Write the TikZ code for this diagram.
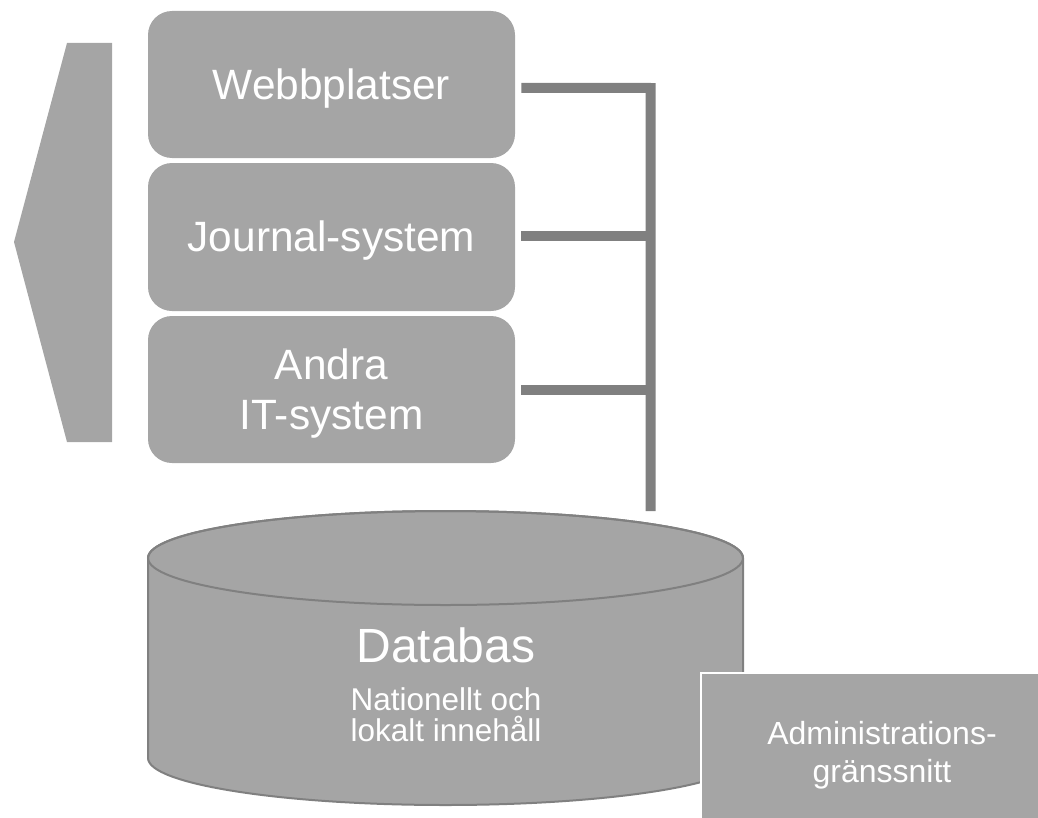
\documentclass[tikz,border=0pt]{standalone}
\usepackage{fontspec}
\setmainfont{Liberation Sans}
\definecolor{boxgray}{HTML}{A5A5A5}
\definecolor{linegray}{HTML}{808080}
\begin{document}
\begin{tikzpicture}[x=0.75pt,y=0.75pt,
  sysbox/.style={fill=boxgray, rounded corners=18pt, minimum width=275.25pt, minimum height=110.25pt, inner sep=0pt},
  systext/.style={text=white, align=center, inner sep=0pt, yshift=-3pt, font=\fontsize{31.8}{37.5}\selectfont},
  bus/.style={draw=linegray, line width=7.5pt, line join=miter},
  cylfill/.style={fill=boxgray, draw=linegray, line width=1.5pt},
  admbox/.style={fill=boxgray, draw=white, line width=1.5pt, minimum width=271.5pt, minimum height=123pt, inner sep=0pt, text=white, align=center, font=\fontsize{24}{28.5}\selectfont}
]
\useasboundingbox (0,0) rectangle (1038,-817);
% left arrow shape
\fill[boxgray] (112,-43) -- (67,-43) -- (14,-242) -- (67,-442) -- (112,-442) -- cycle;
% system boxes
\node[sysbox] (webb) at (331.5,-84.5) {};
\node[systext] (webbtext) at (webb.center) {Webbplatser};
\node[sysbox, minimum height=111pt] (journal) at (331.5,-237) {};
\node[systext] (journaltext) at (journal.center) {Journal-system};
\node[sysbox] (andra) at (331.5,-389.5) {};
\node[systext] (andratext) at (andra.center) {Andra\\IT-system};
% connectors
\coordinate (corner) at (650.5,-88);
\coordinate (busend) at (650.5,-511);
\draw[bus] ([xshift=4.5pt,yshift=-2.6pt]webb.east) -- (corner) -- (busend);
\draw[bus] ([xshift=4.5pt,yshift=0.75pt]journal.east) -- ([yshift=0.75pt]journal.east -| corner);
\draw[bus] ([xshift=4.5pt,yshift=-0.4pt]andra.east) -- ([yshift=-0.4pt]andra.east -| corner);
% database cylinder
\path[cylfill] (148,-558) -- (148,-758) arc[start angle=180, end angle=360, x radius=297.5, y radius=47] -- (743,-558) arc[start angle=0, end angle=180, x radius=297.5, y radius=47] -- cycle;
\draw[draw=linegray, line width=1.5pt] (445.5,-558) ellipse[x radius=297.5, y radius=47];
\node[anchor=base, text=white, inner sep=0pt, font=\fontsize{36}{40}\selectfont] (db) at (446,-662) {Databas};
\node[anchor=base, text=white, inner sep=0pt, align=center, font=\fontsize{23.6}{23.25}\selectfont] (dbsub) at (446,-741) {Nationellt och\\lokalt innehåll};
% admin box
\node[admbox] (adm) at (882,-755) {Administrations-\\gränssnitt};
\end{tikzpicture}
\end{document}
